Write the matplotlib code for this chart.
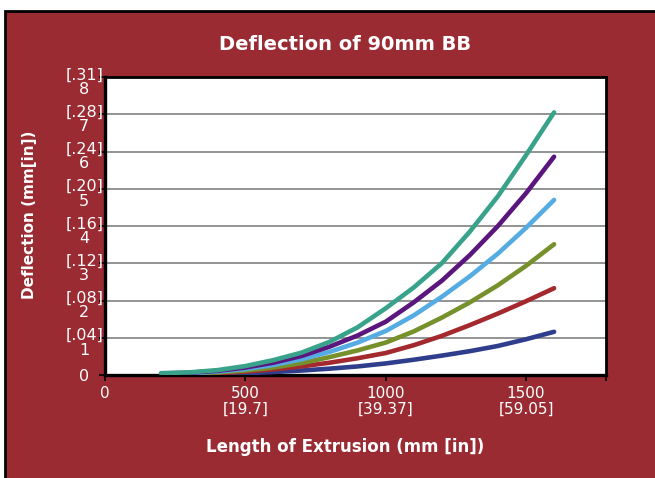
import matplotlib
matplotlib.use("Agg")
import matplotlib.pyplot as plt
from matplotlib.patches import Rectangle
import matplotlib.transforms as mtransforms

# ---- data ----
lengths = [200, 300, 400, 500, 600, 700, 800, 900, 1000, 1100, 1200, 1300, 1400, 1500, 1600]
navy_vals   = [0.02, 0.02, 0.03, 0.05, 0.08, 0.12, 0.17, 0.23, 0.31, 0.41, 0.52, 0.64, 0.78, 0.96, 1.16]
red_vals    = [0.02, 0.03, 0.05, 0.09, 0.15, 0.23, 0.33, 0.45, 0.59, 0.80, 1.05, 1.34, 1.65, 1.98, 2.33]
olive_vals  = [0.03, 0.04, 0.07, 0.12, 0.20, 0.32, 0.48, 0.66, 0.87, 1.17, 1.54, 1.95, 2.41, 2.93, 3.51]
blue_vals   = [0.03, 0.05, 0.09, 0.16, 0.27, 0.42, 0.62, 0.87, 1.18, 1.60, 2.10, 2.65, 3.26, 3.95, 4.70]
purple_vals = [0.04, 0.06, 0.11, 0.20, 0.33, 0.51, 0.76, 1.06, 1.43, 1.95, 2.53, 3.22, 4.00, 4.88, 5.86]
teal_vals   = [0.05, 0.07, 0.13, 0.24, 0.40, 0.60, 0.89, 1.28, 1.79, 2.35, 3.00, 3.85, 4.80, 5.90, 7.05]

x_ticks = [0, 500, 1000, 1500]
x_tick_labels = ["0", "500\n[19.7]", "1000\n[39.37]", "1500\n[59.05]"]
y_ticks = [0, 1, 2, 3, 4, 5, 6, 7, 8]
y_tick_labels = ["0", "[.04]\n1", "[.08]\n2", "[.12]\n3", "[.16]\n4",
                 "[.20]\n5", "[.24]\n6", "[.28]\n7", "[.31]\n8"]

title = "Deflection of 90mm BB"
xlabel = "Length of Extrusion (mm [in])"
ylabel = "Deflection (mm[in])"

series = [
    (navy_vals, "#2F3E8C"),
    (red_vals, "#A3292F"),
    (olive_vals, "#76902B"),
    (blue_vals, "#55ACE3"),
    (purple_vals, "#5B167E"),
    (teal_vals, "#38A38A"),
]

W, H = 655, 478
BG = "#9A2B33"
TICKFONT = ["Liberation Sans Narrow", "DejaVu Sans"]
fig = plt.figure(figsize=(W / 100, H / 100), dpi=100, facecolor="white")

# dark red panel with black border
fig.patches.append(Rectangle((5 / W, -0.05), 1.1, (H - 11) / H + 0.05,
                             transform=fig.transFigure, facecolor=BG,
                             edgecolor="black", linewidth=2.0, zorder=-10))

ax = fig.add_axes([105 / W, (H - 375) / H, (606 - 105) / W, (375 - 77) / H])
ax.set_zorder(5)
ax.set_facecolor("white")

for vals, col in series:
    ax.plot(lengths, vals, color=col, linewidth=3.3, solid_capstyle="round",
            solid_joinstyle="round", zorder=3)

ax.set_xlim(0, 1785)
ax.set_ylim(0, 8)

for yv in y_ticks[1:8]:
    ax.axhline(yv, color="#808080", linewidth=1.2, zorder=1)

ax.set_yticks(y_ticks)
ax.set_yticklabels(y_tick_labels, linespacing=0.95, family=TICKFONT)
ax.set_xticks(x_ticks + [1785])
ax.set_xticklabels(x_tick_labels + [""], linespacing=1.05, family=TICKFONT)

ax.tick_params(axis="y", colors="black", labelcolor="white", length=4,
               width=1.2, direction="out", labelsize=11.5, pad=3)
ax.tick_params(axis="x", colors="black", labelcolor="white", length=4,
               width=1.2, direction="out", labelsize=11, pad=4)
for lbl in ax.get_yticklabels():
    lbl.set_horizontalalignment("center")
for i, lbl in enumerate(ax.get_yticklabels()):
    off = mtransforms.offset_copy(lbl.get_transform(), fig=fig, x=-11,
                                  y=-4 if i > 0 else 0, units="dots")
    lbl.set_transform(off)

for sp in ax.spines.values():
    sp.set_color("black")
    sp.set_linewidth(2.0)
ax.spines["left"].set_linewidth(2.4)
ax.spines["bottom"].set_linewidth(2.4)

fig.text(345 / W, (H - 45) / H, title, color="white", fontsize=14,
         fontweight="bold", ha="center", va="center", family="DejaVu Sans")
fig.text(345 / W, (H - 447) / H, xlabel, color="white", fontsize=12,
         fontweight="bold", ha="center", va="center", family="DejaVu Sans")
fig.text(30 / W, (H - 215) / H, ylabel, color="white", fontsize=11,
         fontweight="bold", ha="center", va="center", rotation=90,
         family="DejaVu Sans")

fig.savefig("out.png", dpi=100, facecolor=fig.get_facecolor())
